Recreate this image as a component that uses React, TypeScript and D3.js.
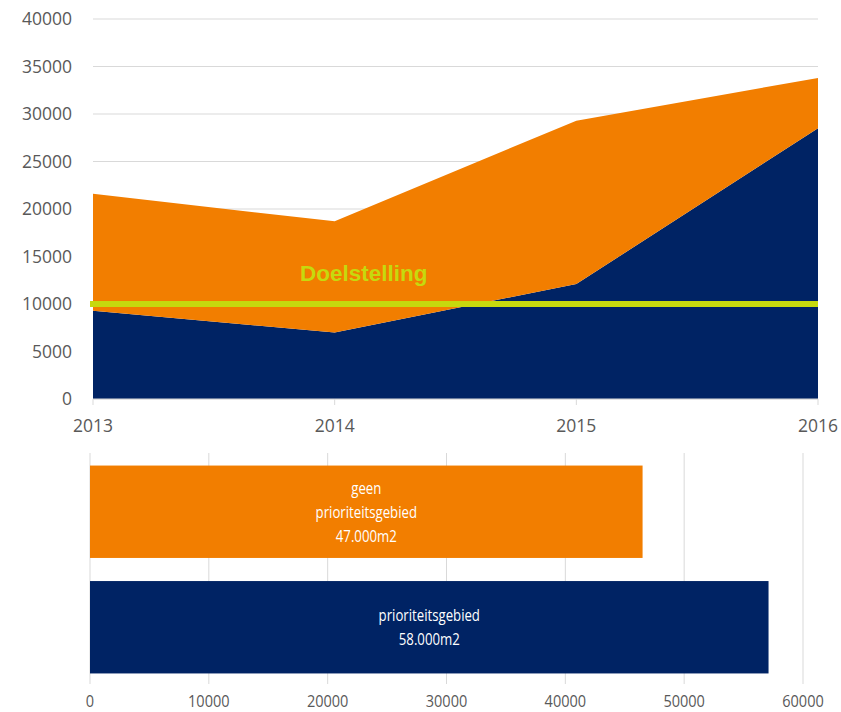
import React from "react";
import * as d3 from "d3";

const years = ["2013", "2014", "2015", "2016"];
const prioriteit = [9300, 7000, 12100, 28500];
const geenPrioriteit = [12300, 11700, 17200, 5300];
const yTicks = [0, 5000, 10000, 15000, 20000, 25000, 30000, 35000, 40000];
const doelstelling = 10000;
const doelLabel = "Doelstelling";

const barCategories = ["geen", "prio"];
const barValues = [46500, 57100];
const barLabels = [
  ["geen", "prioriteitsgebied", "47.000m2"],
  ["prioriteitsgebied", "58.000m2"],
];
const xBarTicks = [0, 10000, 20000, 30000, 40000, 50000, 60000];

const ORANGE = "#F27E00";
const NAVY = "#002364";
const GREEN = "#C6D90E";
const GRID = "#D9D9D9";
const TXT = "#595959";
const FONT = "'Open Sans', 'DejaVu Sans', sans-serif";

export default function App() {
  const x = d3.scalePoint<string>().domain(years).range([93, 818]);
  const y = d3.scaleLinear().domain([0, 40000]).range([399, 19]);

  const stackData = years.map((yr, i) => ({
    year: yr,
    prio: prioriteit[i],
    geen: geenPrioriteit[i],
  }));
  const series = d3.stack<any>().keys(["prio", "geen"])(stackData);
  const area = d3
    .area<any>()
    .x((d) => x(d.data.year) as number)
    .y0((d) => y(d[0]))
    .y1((d) => y(d[1]));
  const colors = [NAVY, ORANGE];

  const xb = d3.scaleLinear().domain([0, 60000]).range([90, 803]);
  const yb = d3.scaleBand().domain(barCategories).range([454, 685]).paddingInner(0.2).paddingOuter(0.1);

  return (
    <svg
      width={841}
      height={712}
      style={{ position: "absolute", left: 0, top: 0, background: "#fff" }}
    >
      {yTicks.map((t) => (
        <g key={t}>
          <line x1={93} x2={818} y1={y(t)} y2={y(t)} stroke={GRID} strokeWidth={1} />
          <text
            x={72}
            y={y(t)}
            dy="0.35em"
            textAnchor="end"
            fontFamily={FONT}
            fontSize={17.5}
            fill={TXT}
          >
            {t}
          </text>
        </g>
      ))}
      {series.map((s, i) => (
        <path key={s.key} d={area(s as any) || ""} fill={colors[i]} />
      ))}
      <line x1={93} x2={818} y1={y(0)} y2={y(0)} stroke={GRID} />
      {years.map((yr) => (
        <g key={yr}>
          <line x1={x(yr)} x2={x(yr)} y1={399} y2={405} stroke={GRID} />
          <text
            x={x(yr)}
            y={432}
            textAnchor="middle"
            fontFamily={FONT}
            fontSize={17.5}
            fill={TXT}
          >
            {yr}
          </text>
        </g>
      ))}
      <line
        x1={90}
        x2={818}
        y1={y(doelstelling)}
        y2={y(doelstelling)}
        stroke={GREEN}
        strokeWidth={6}
      />
      <text
        x={300}
        y={281}
        fontFamily="'Liberation Sans', Arial, sans-serif"
        fontWeight="bold"
        fontSize={22.5}
        fill={GREEN}
      >
        {doelLabel}
      </text>

      {xBarTicks.map((t) => (
        <g key={t}>
          <line x1={xb(t)} x2={xb(t)} y1={453} y2={684} stroke={GRID} />
          <text
            x={xb(t)}
            y={707}
            textAnchor="middle"
            fontFamily={FONT}
            fontSize={16.5}
            fill={TXT}
            transform={`translate(${xb(t)},0) scale(0.88,1) translate(${-xb(t)},0)`}
          >
            {t}
          </text>
        </g>
      ))}
      {barCategories.map((c, i) => {
        const y0 = yb(c) as number;
        const h = yb.bandwidth();
        const w = xb(barValues[i]) - xb(0);
        const cx = xb(0) + w / 2;
        const lines = barLabels[i];
        const lh = 24;
        const start = y0 + h / 2 - ((lines.length - 1) * lh) / 2;
        return (
          <g key={c}>
            <rect x={xb(0)} y={y0} width={w} height={h} fill={i === 0 ? ORANGE : NAVY} />
            <g transform={`translate(${cx},0) scale(0.8,1)`}>
              {lines.map((l, j) => (
                <text
                  key={j}
                  x={0}
                  y={start + j * lh}
                  dy="0.35em"
                  textAnchor="middle"
                  fontFamily={FONT}
                  fontSize={16.5}
                  fill="#fff"
                >
                  {l}
                </text>
              ))}
            </g>
          </g>
        );
      })}
    </svg>
  );
}
